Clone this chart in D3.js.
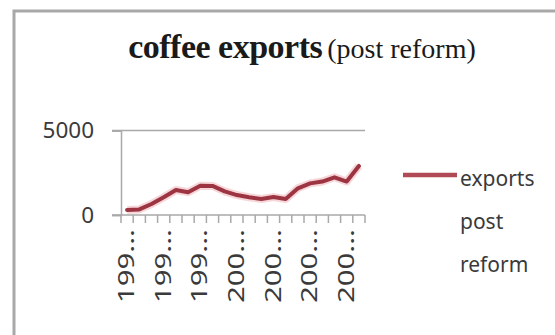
<!DOCTYPE html>
<html>
<head>
<meta charset="utf-8">
<script src="https://cdn.jsdelivr.net/npm/d3@7/dist/d3.min.js"></script>
<style>
  html, body { margin: 0; padding: 0; background: #fff; }
  svg { display: block; }
</style>
</head>
<body>
<svg id="chart" width="555" height="335"></svg>
<script>
// Fiscal years of coffee exports after the reform
const categories = [
  "1991-92", "1992-93", "1993-94", "1994-95", "1995-96",
  "1996-97", "1997-98", "1998-99", "1999-00", "2000-01",
  "2001-02", "2002-03", "2003-04", "2004-05", "2005-06",
  "2006-07", "2007-08", "2008-09", "2009-10", "2010-11"
];
// Export values per year
const exportsPostReform = [
  300, 330, 650, 1050, 1480, 1350, 1730, 1720, 1400, 1180,
  1050, 950, 1060, 950, 1580, 1870, 1980, 2230, 1980, 2900
];
const yTicks = [0, 5000];
const titleBold = "coffee exports";
const titleRest = "(post reform)";

const svg = d3.select("#chart");

// Outer chart frame
svg.append("rect")
  .attr("x", 14).attr("y", 11)
  .attr("width", 600).attr("height", 400)
  .attr("fill", "none")
  .attr("stroke", "#a8a8a8")
  .attr("stroke-width", 3);

// Title
const title = svg.append("text")
  .attr("x", 302).attr("y", 58)
  .attr("text-anchor", "middle")
  .attr("fill", "#1a1a1a");
title.append("tspan")
  .attr("font-family", "'Liberation Serif', serif")
  .attr("font-weight", "bold")
  .attr("font-size", 34)
  .attr("letter-spacing", -0.5)
  .text(titleBold);
title.append("tspan")
  .attr("dx", 5)
  .attr("font-family", "'Liberation Serif', serif")
  .attr("font-size", 28)
  .text(titleRest);

// Scales
const x = d3.scaleBand().domain(categories).range([121, 365]);
const y = d3.scaleLinear().domain([0, 5000]).range([215, 130.5]);

const axisColor = "#a9a9a9";

// Horizontal grid line at the top value
svg.append("g")
  .selectAll("line")
  .data(yTicks.filter(d => d > 0))
  .join("line")
  .attr("x1", 112).attr("x2", 365)
  .attr("y1", d => y(d)).attr("y2", d => y(d))
  .attr("stroke", axisColor).attr("stroke-width", 1.5);

// Y axis
const yAxis = svg.append("g")
  .attr("transform", "translate(121,0)")
  .call(d3.axisLeft(y).tickValues(yTicks).tickFormat(d3.format("d"))
    .tickSize(9).tickPadding(18));
yAxis.select(".domain").attr("stroke", axisColor).attr("stroke-width", 1.5);
yAxis.selectAll(".tick line").attr("stroke", axisColor).attr("stroke-width", 1.5);
yAxis.selectAll(".tick text")
  .attr("font-family", "'Noto Sans', sans-serif")
  .attr("font-size", 22.5)
  .attr("fill", "#3a3a3a");

// X axis: category labels every third year, truncated to fit
const xAxisG = svg.append("g").attr("transform", "translate(0,215)");
xAxisG.append("line")
  .attr("x1", 112).attr("x2", 365)
  .attr("stroke", axisColor).attr("stroke-width", 1.5);
const boundaries = categories.map(c => x(c)).concat([x.range()[1]]);
xAxisG.selectAll("line.tick")
  .data(boundaries)
  .join("line")
  .attr("class", "tick")
  .attr("x1", d => d).attr("x2", d => d)
  .attr("y1", 0).attr("y2", 8)
  .attr("stroke", axisColor).attr("stroke-width", 1.5);
xAxisG.selectAll("text")
  .data(categories.filter((c, i) => i % 3 === 0))
  .join("text")
  .attr("transform", d => `translate(${x(d) + x.bandwidth() / 2 + 7},14) scale(1,1.4) rotate(-90)`)
  .attr("text-anchor", "end")
  .attr("font-family", "'Noto Sans', sans-serif")
  .attr("font-size", 21)
  .attr("fill", "#3a3a3a")
  .text(d => d.slice(0, 3) + "...");

// Series line
const line = d3.line()
  .x((d, i) => x(categories[i]) + x.bandwidth() / 2)
  .y(d => y(d))
  .curve(d3.curveLinear);

svg.append("path")
  .datum(exportsPostReform)
  .attr("d", line)
  .attr("fill", "none")
  .attr("stroke", "#f2c4c9")
  .attr("stroke-width", 8)
  .attr("stroke-linejoin", "round")
  .attr("opacity", 0.7);
svg.append("path")
  .datum(exportsPostReform)
  .attr("d", line)
  .attr("fill", "none")
  .attr("stroke", "#9c3441")
  .attr("stroke-width", 4)
  .attr("stroke-linejoin", "round")
  .attr("stroke-linecap", "round");

// Legend
const legend = svg.append("g");
legend.append("line")
  .attr("x1", 403).attr("x2", 457)
  .attr("y1", 175).attr("y2", 175)
  .attr("stroke", "#b04a56").attr("stroke-width", 4.5);
const legendLines = ["exports", "post", "reform"];
legend.selectAll("text")
  .data(legendLines)
  .join("text")
  .attr("x", 460)
  .attr("y", (d, i) => 186 + i * 43)
  .attr("font-family", "'Noto Sans', sans-serif")
  .attr("font-size", 21)
  .attr("fill", "#3a3a3a")
  .text(d => d);
</script>
</body>
</html>
